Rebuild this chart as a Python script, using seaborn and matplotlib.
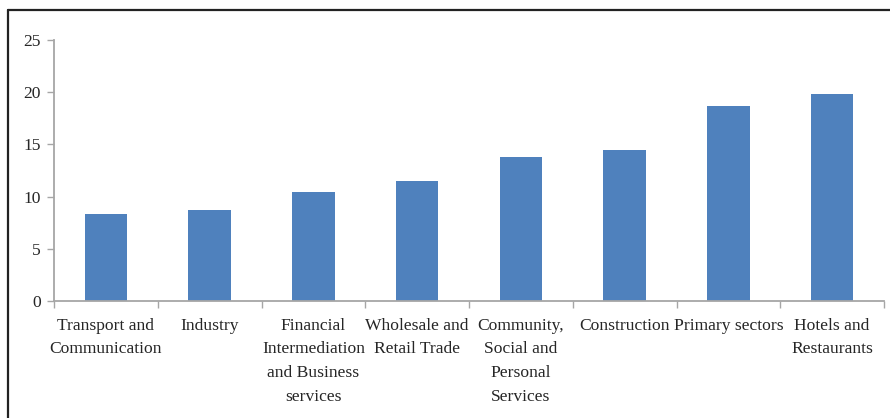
import matplotlib
matplotlib.use("Agg")
import matplotlib.pyplot as plt
import seaborn as sns
import pandas as pd
from matplotlib.lines import Line2D

categories = [
    "Transport and\nCommunication",
    "Industry",
    "Financial\nIntermediation\nand Business\nservices",
    "Wholesale and\nRetail Trade",
    "Community,\nSocial and\nPersonal\nServices",
    "Construction",
    "Primary sectors",
    "Hotels and\nRestaurants",
]
values = [8.3, 8.7, 10.4, 11.5, 13.8, 14.5, 18.7, 19.8]
yticks = [0, 5, 10, 15, 20, 25]

sns.set_style("white")
plt.rcParams["font.family"] = ["Liberation Serif", "DejaVu Serif"]

W, H = 890, 418
fig = plt.figure(figsize=(W / 100, H / 100), dpi=100)
ax = fig.add_axes([54 / W, 1 - 301 / H, (884 - 54) / W, (301 - 40) / H])

df = pd.DataFrame({"cat": categories, "val": values})
sns.barplot(data=df, x="cat", y="val", color="#4F81BD", width=0.41,
            saturation=1, linewidth=0, ax=ax)

ax.set_xlim(-0.5, len(categories) - 0.5)
ax.set_ylim(0, 25)
ax.set_yticks(yticks)
ax.set_xlabel("")
ax.set_ylabel("")

axis_col = "#A6A6A6"
for s in ["top", "right"]:
    ax.spines[s].set_visible(False)
for s in ["left", "bottom"]:
    ax.spines[s].set_color(axis_col)
    ax.spines[s].set_linewidth(1.3)

ax.tick_params(axis="y", which="major", direction="out", length=5,
               color=axis_col, width=1, labelsize=12.6, pad=4.5, left=True)
ax.tick_params(axis="x", which="major", length=0, labelsize=12.6, pad=12)
ax.set_xticks([i - 0.5 for i in range(len(categories) + 1)], minor=True)
ax.tick_params(axis="x", which="minor", direction="out", length=5,
               color=axis_col, width=1, bottom=True)
ax.set_xticks(range(len(categories)))
ax.set_xticklabels(categories, linespacing=1.65, va="top", fontsize=12.6)

# figure frame (top and left edges)
fig.add_artist(Line2D([8 / W, 1], [1 - 10 / H, 1 - 10 / H], color="#222222",
                      lw=1.6, transform=fig.transFigure))
fig.add_artist(Line2D([8 / W, 8 / W], [1 - 10 / H, 0], color="#222222",
                      lw=1.6, transform=fig.transFigure))

fig.savefig("out.png", dpi=100, facecolor="white")
